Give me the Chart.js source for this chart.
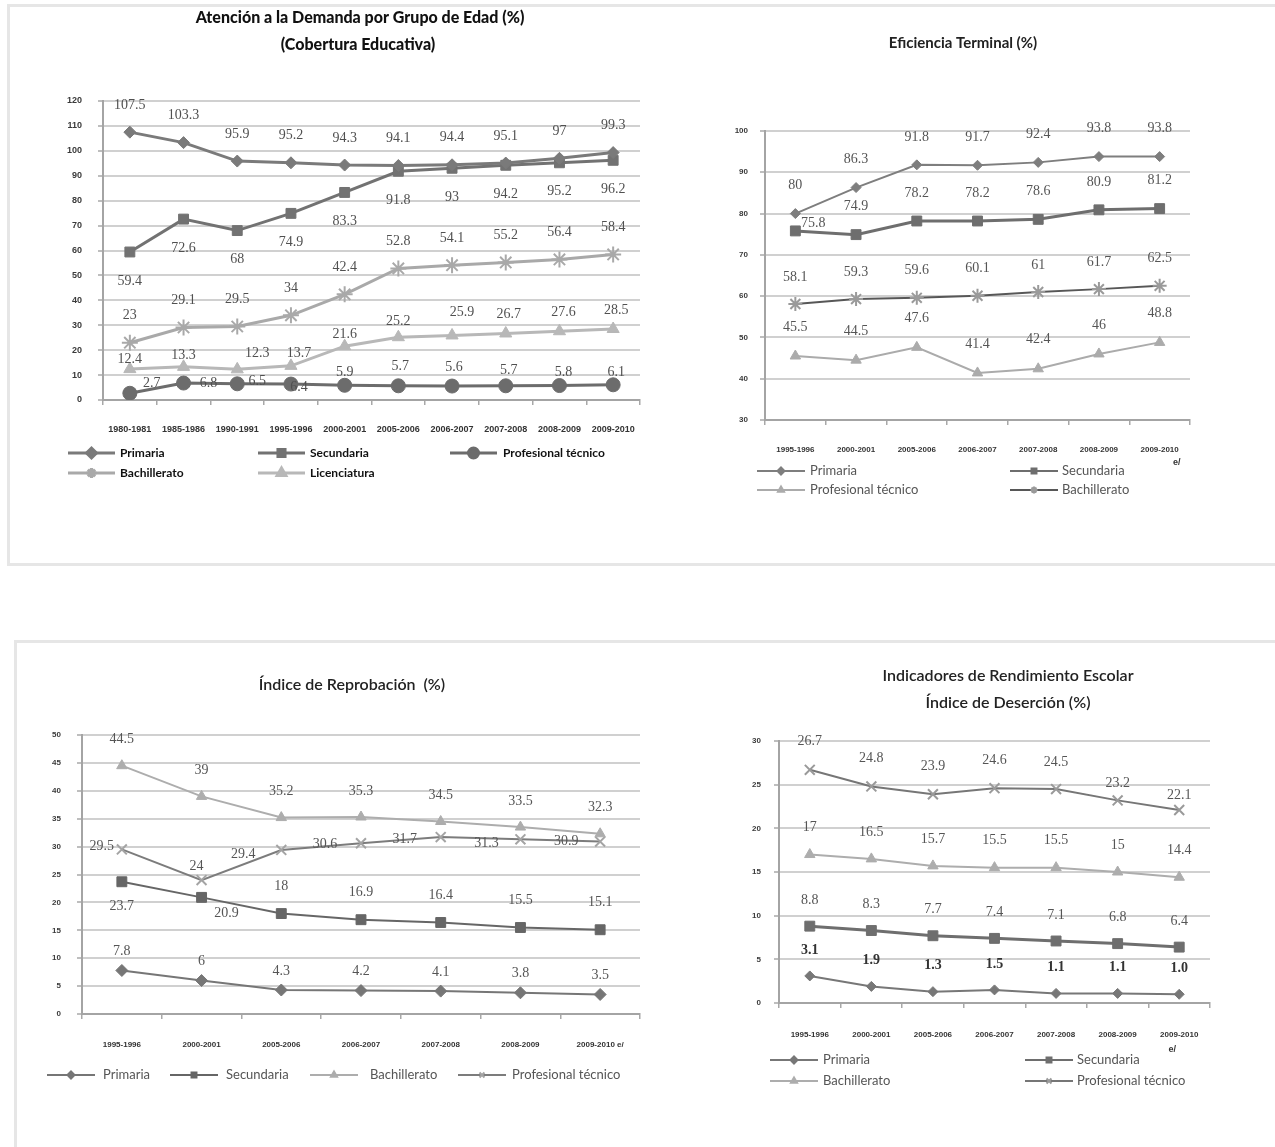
<!DOCTYPE html>
<html lang="es">
<head>
<meta charset="utf-8">
<title>Indicadores educativos</title>
<script src="https://cdn.jsdelivr.net/npm/chart.js@4.4.1/dist/chart.umd.min.js"></script>
<style>
  html, body { margin: 0; padding: 0; background: #fff; }
  body { position: relative; width: 1275px; height: 1147px; overflow: hidden; }
  .frame { position: absolute; border: 3px solid #e6e6e6; box-sizing: border-box; }
  .box { position: absolute; }
  canvas { display: block; }
</style>
</head>
<body>
<div class="frame" style="left:7px;top:4px;width:1300px;height:562px;"></div>
<div class="frame" style="left:14px;top:640px;width:1300px;height:540px;"></div>

<div class="box" style="left:50px;top:0px;"><canvas id="cobertura" width="610" height="500"></canvas></div>
<div class="box" style="left:720px;top:5px;"><canvas id="eficiencia" width="555" height="520"></canvas></div>
<div class="box" style="left:14px;top:640px;"><canvas id="reprobacion" width="650" height="470"></canvas></div>
<div class="box" style="left:740px;top:640px;"><canvas id="desercion" width="535" height="470"></canvas></div>

<script>
// ---- Atención a la demanda (cobertura) ----
const coberturaCiclos = ["1980-1981", "1985-1986", "1990-1991", "1995-1996", "2000-2001",
                         "2005-2006", "2006-2007", "2007-2008", "2008-2009", "2009-2010"];
const coberturaPrimaria      = [107.5, 103.3, 95.9, 95.2, 94.3, 94.1, 94.4, 95.1, 97, 99.3];
const coberturaSecundaria    = [59.4, 72.6, 68, 74.9, 83.3, 91.8, 93, 94.2, 95.2, 96.2];
const coberturaProfTecnico   = [2.7, 6.8, 6.5, 6.4, 5.9, 5.7, 5.6, 5.7, 5.8, 6.1];
const coberturaBachillerato  = [23, 29.1, 29.5, 34, 42.4, 52.8, 54.1, 55.2, 56.4, 58.4];
const coberturaLicenciatura  = [12.4, 13.3, 12.3, 13.7, 21.6, 25.2, 25.9, 26.7, 27.6, 28.5];
const coberturaEje = { min: 0, max: 120, paso: 10 };

// ---- Ciclos escolares de los indicadores de rendimiento ----
const ciclos = ["1995-1996", "2000-2001", "2005-2006", "2006-2007", "2007-2008", "2008-2009", "2009-2010 e/"];

// ---- Eficiencia terminal ----
const eficienciaPrimaria     = [80, 86.3, 91.8, 91.7, 92.4, 93.8, 93.8];
const eficienciaSecundaria   = [75.8, 74.9, 78.2, 78.2, 78.6, 80.9, 81.2];
const eficienciaProfTecnico  = [45.5, 44.5, 47.6, 41.4, 42.4, 46, 48.8];
const eficienciaBachillerato = [58.1, 59.3, 59.6, 60.1, 61, 61.7, 62.5];
const eficienciaEje = { min: 30, max: 100, paso: 10 };

// ---- Índice de reprobación ----
const reprobacionPrimaria     = [7.8, 6, 4.3, 4.2, 4.1, 3.8, 3.5];
const reprobacionSecundaria   = [23.7, 20.9, 18, 16.9, 16.4, 15.5, 15.1];
const reprobacionBachillerato = [44.5, 39, 35.2, 35.3, 34.5, 33.5, 32.3];
const reprobacionProfTecnico  = [29.5, 24, 29.4, 30.6, 31.7, 31.3, 30.9];
const reprobacionEje = { min: 0, max: 50, paso: 5 };

// ---- Índice de deserción ----
const desercionPrimaria     = [3.1, 1.9, 1.3, 1.5, 1.1, 1.1, 1.0];
const desercionSecundaria   = [8.8, 8.3, 7.7, 7.4, 7.1, 6.8, 6.4];
const desercionBachillerato = [17, 16.5, 15.7, 15.5, 15.5, 15, 14.4];
const desercionProfTecnico  = [26.7, 24.8, 23.9, 24.6, 24.5, 23.2, 22.1];
const desercionEje = { min: 0, max: 30, paso: 5 };

// Value labels next to each point; offsets come from dataset.valueLabel
const valueLabels = {
  id: 'valueLabels',
  afterDatasetsDraw(chart, args, opts) {
    const ctx = chart.ctx;
    chart.data.datasets.forEach((ds, i) => {
      const meta = chart.getDatasetMeta(i);
      const lb = ds.valueLabel || {};
      ctx.save();
      ctx.font = lb.font || opts.font;
      ctx.fillStyle = lb.color || opts.color;
      ctx.textAlign = 'center';
      ctx.textBaseline = 'middle';
      meta.data.forEach((pt, j) => {
        const dx = Array.isArray(lb.dx) ? lb.dx[j] : (lb.dx || 0);
        const dy = Array.isArray(lb.dy) ? lb.dy[j] : (lb.dy || 0);
        const v = ds.data[j];
        const txt = lb.decimals != null ? v.toFixed(lb.decimals) : String(v);
        ctx.fillText(txt, pt.x + dx, pt.y + dy);
      });
      ctx.restore();
    });
  }
};

// Titles, a grid-placed legend (line + marker + name) and the "e/" note per chart
const panelText = {
  id: 'panelText',
  afterDraw(chart, args, opts) {
    const ctx = chart.ctx;
    ctx.save();
    ctx.textAlign = 'center';
    ctx.textBaseline = 'middle';
    (opts.titles || []).forEach(t => {
      ctx.font = t.font;
      ctx.fillStyle = t.color || '#222';
      ctx.fillText(t.text, t.x, t.y);
    });
    // note placed under the last category label
    if (opts.note) {
      const xs = chart.scales.x;
      const last = xs.getPixelForValue(chart.data.labels.length - 1);
      ctx.font = opts.note.font;
      ctx.fillStyle = opts.note.color;
      ctx.fillText(opts.note.text, last + opts.note.dx, xs.bottom - xs.height + opts.note.dy);
    }
    const lg = opts.legend;
    if (lg) {
      chart.data.datasets.forEach((ds, i) => {
        const p = lg.items[i];
        if (!p) return;
        ctx.strokeStyle = ds.borderColor;
        ctx.lineWidth = lg.lineWidth || 2;
        ctx.beginPath();
        ctx.moveTo(p.lx, p.y);
        ctx.lineTo(p.lx + lg.lineLength, p.y);
        ctx.stroke();
        ctx.fillStyle = ds.pointBackgroundColor;
        ctx.strokeStyle = ds.pointBorderColor;
        Chart.helpers.drawPoint(ctx, {
          pointStyle: ds.pointStyle,
          radius: lg.markerRadius,
          rotation: 0,
          borderWidth: ds.pointBorderWidth
        }, p.lx + lg.lineLength / 2, p.y);
        ctx.font = lg.font;
        ctx.fillStyle = lg.color;
        ctx.textAlign = 'left';
        ctx.fillText(ds.label, p.tx, p.y);
      });
    }
    ctx.restore();
  }
};

function series(label, data, color, style, radius, width, valueLabel, markerColor) {
  const mc = markerColor || color;
  return {
    label, data,
    borderColor: color,
    backgroundColor: color,
    borderWidth: width,
    pointStyle: style,
    pointRadius: radius,
    pointHoverRadius: radius,
    pointBackgroundColor: mc,
    pointBorderColor: mc,
    pointBorderWidth: (style === 'star' || style === 'crossRot' || style === 'cross') ? 2 : 1,
    tension: 0,
    fill: false,
    valueLabel
  };
}

function valueAxis(range, font, width, gap) {
  return {
    type: 'linear',
    min: range.min, max: range.max,
    ticks: { stepSize: range.paso, font, color: '#3a3a3a', padding: gap },
    grid: { color: '#d0d0d0', lineWidth: 2, drawTicks: true, tickLength: 5, tickColor: '#a8a8a8', tickWidth: 1.5 },
    border: { color: '#a4a4a4', width: 2 },
    afterFit(s) { s.width = width; }
  };
}

// splitNote: the " e/" suffix of a label is drawn separately, on a line below it
function categoryAxis(font, gap, splitNote) {
  return {
    type: 'category',
    offset: true,
    ticks: {
      font, color: '#333', padding: gap, autoSkip: false, maxRotation: 0, minRotation: 0,
      callback(v) {
        const l = this.getLabelForValue(v);
        return splitNote ? l.split(' ')[0] : l;
      }
    },
    grid: { offset: true, drawOnChartArea: false, drawTicks: true, tickLength: 5, color: '#a8a8a8', lineWidth: 1.5 },
    border: { color: '#a4a4a4', width: 2 },
    afterFit(s) { s.height = 40; }
  };
}

function baseOptions(padding, scales, plugins) {
  return {
    responsive: false,
    animation: false,
    events: [],
    layout: { padding },
    scales,
    plugins: Object.assign({ legend: { display: false }, tooltip: { enabled: false }, title: { display: false } }, plugins)
  };
}

const serifLabel = '14px "Liberation Serif", serif';
const tickFont = { family: '"Liberation Sans", Arial, sans-serif', size: 8, weight: 'bold' };
const noteFont = 'bold 9px "Liberation Sans", Arial, sans-serif';

// ---------- Atención a la Demanda por Grupo de Edad ----------
new Chart(document.getElementById('cobertura'), {
  type: 'line',
  data: {
    labels: coberturaCiclos,
    datasets: [
      series('Primaria', coberturaPrimaria, '#7a7a7a', 'rectRot', 6, 3, { dy: -27 }),
      series('Secundaria', coberturaSecundaria, '#727272', 'rect', 7, 3, { dy: 29 }),
      series('Profesional técnico', coberturaProfTecnico, '#6c6c6c', 'circle', 7, 3,
             { dx: [22, 25, 20, 8, 0, 2, 2, 3, 4, 3], dy: [-10, 0, -2, 3, -13, -19, -19, -15, -13, -12] }),
      series('Bachillerato', coberturaBachillerato, '#a9a9a9', 'star', 8, 3, { dy: -27 }),
      series('Licenciatura', coberturaLicenciatura, '#b8b8b8', 'triangle', 7, 3,
             { dx: [0, 0, 20, 8, 0, 0, 10, 3, 4, 3], dy: [-10, -12, -16, -13, -12, -16, -23, -19, -19, -19] })
    ]
  },
  options: baseOptions(
    { left: 8, top: 101, right: 20, bottom: 60 },
    {
      x: categoryAxis({ family: '"Liberation Sans", Arial, sans-serif', size: 9, weight: 'bold' }, 19, false),
      y: valueAxis(coberturaEje, { family: '"Liberation Sans", Arial, sans-serif', size: 9, weight: 'bold' }, 45, 16)
    },
    {
      valueLabels: { font: serifLabel, color: '#505050' },
      panelText: {
        titles: [
          { text: 'Atención a la Demanda por Grupo de Edad (%)', x: 310, y: 18, font: '900 16px Lato, sans-serif', color: '#111' },
          { text: '(Cobertura Educativa)', x: 308, y: 45, font: '900 16px Lato, sans-serif', color: '#111' }
        ],
        legend: {
          font: 'bold 12px Lato, sans-serif', color: '#111', lineLength: 47, lineWidth: 3, markerRadius: 5,
          items: [
            { lx: 18, tx: 70, y: 453 }, { lx: 208, tx: 260, y: 453 }, { lx: 400, tx: 453, y: 453 },
            { lx: 18, tx: 70, y: 473 }, { lx: 208, tx: 260, y: 473 }
          ]
        }
      }
    }
  ),
  plugins: [valueLabels, panelText]
});

// ---------- Eficiencia Terminal ----------
new Chart(document.getElementById('eficiencia'), {
  type: 'line',
  data: {
    labels: ciclos,
    datasets: [
      series('Primaria', eficienciaPrimaria, '#7e7e7e', 'rectRot', 5, 2, { dy: -28 }),
      series('Secundaria', eficienciaSecundaria, '#6e6e6e', 'rect', 7, 3, { dx: [18, 0, 0, 0, 0, 0, 0], dy: [-8, -28, -28, -28, -28, -28, -28] }),
      series('Profesional técnico', eficienciaProfTecnico, '#ababab', 'triangle', 6, 2, { dy: -29 }),
      series('Bachillerato', eficienciaBachillerato, '#575757', 'star', 7, 2, { dy: -27 }, '#9a9a9a')
    ]
  },
  options: baseOptions(
    { left: 5, top: 126, right: 85, bottom: 65 },
    {
      x: categoryAxis(tickFont, 20, true),
      y: valueAxis(eficienciaEje, tickFont, 40, 12)
    },
    {
      valueLabels: { font: serifLabel, color: '#555' },
      panelText: {
        titles: [
          { text: 'Eficiencia Terminal (%)', x: 243, y: 38, font: 'bold 15px Lato, sans-serif', color: '#222' }
        ],
        note: { text: 'e/', font: noteFont, color: '#333', dx: 17, dy: 43 },
        legend: {
          font: '13px Lato, sans-serif', color: '#555', lineLength: 48, lineWidth: 2, markerRadius: 3.5,
          items: [
            { lx: 37, tx: 90, y: 466 }, { lx: 290, tx: 342, y: 466 },
            { lx: 37, tx: 90, y: 485 }, { lx: 290, tx: 342, y: 485 }
          ]
        }
      }
    }
  ),
  plugins: [valueLabels, panelText]
});

// ---------- Índice de Reprobación ----------
new Chart(document.getElementById('reprobacion'), {
  type: 'line',
  data: {
    labels: ciclos,
    datasets: [
      series('Primaria', reprobacionPrimaria, '#767676', 'rectRot', 6, 2, { dy: -19 }),
      series('Secundaria', reprobacionSecundaria, '#666666', 'rect', 7, 2, { dx: [0, 25, 0, 0, 0, 0, 0], dy: [25, 16, -27, -27, -27, -27, -27] }),
      series('Bachillerato', reprobacionBachillerato, '#adadad', 'triangle', 6, 2, { dy: -26 }),
      series('Profesional técnico', reprobacionProfTecnico, '#7c7c7c', 'crossRot', 7, 2,
             { dx: [-20, -5, -38, -36, -36, -34, -34], dy: [-3, -14, 4, 1, 2, 4, 0] }, '#a4a4a4')
    ]
  },
  options: baseOptions(
    { left: 28, top: 95, right: 24, bottom: 56 },
    {
      x: categoryAxis(tickFont, 21, false),
      y: valueAxis(reprobacionEje, tickFont, 40, 16)
    },
    {
      valueLabels: { font: serifLabel, color: '#555' },
      panelText: {
        titles: [
          { text: 'Índice de Reprobación  (%)', x: 338, y: 45, font: '600 16px Lato, sans-serif', color: '#222' }
        ],
        legend: {
          font: '13px Lato, sans-serif', color: '#555', lineLength: 48, lineWidth: 2, markerRadius: 3.5,
          items: [
            { lx: 33, tx: 89, y: 435 }, { lx: 156, tx: 212, y: 435 },
            { lx: 296, tx: 356, y: 435 }, { lx: 444, tx: 498, y: 435 }
          ]
        }
      }
    }
  ),
  plugins: [valueLabels, panelText]
});

// ---------- Índice de Deserción ----------
new Chart(document.getElementById('desercion'), {
  type: 'line',
  data: {
    labels: ciclos,
    datasets: [
      series('Primaria', desercionPrimaria, '#777777', 'rectRot', 5, 2, { dy: -26, decimals: 1, font: 'bold 14px "Liberation Serif", serif', color: '#333' }),
      series('Secundaria', desercionSecundaria, '#6e6e6e', 'rect', 7, 3, { dy: -26 }),
      series('Profesional técnico', desercionProfTecnico, '#767676', 'crossRot', 7, 2, { dy: [-28, -28, -28, -28, -27, -17, -15] }, '#9a9a9a'),
      series('Bachillerato', desercionBachillerato, '#adadad', 'triangle', 6, 2, { dy: -27 })
    ]
  },
  options: baseOptions(
    { left: 4, top: 101, right: 65, bottom: 67 },
    {
      x: categoryAxis(tickFont, 22, true),
      y: valueAxis(desercionEje, tickFont, 35, 13)
    },
    {
      valueLabels: { font: serifLabel, color: '#555' },
      panelText: {
        titles: [
          { text: 'Indicadores de Rendimiento Escolar', x: 268, y: 36, font: '600 16px Lato, sans-serif', color: '#222' },
          { text: 'Índice de Deserción (%)', x: 268, y: 63, font: '600 16px Lato, sans-serif', color: '#222' }
        ],
        note: { text: 'e/', font: noteFont, color: '#333', dx: -7, dy: 47 },
        legend: {
          font: '13px Lato, sans-serif', color: '#555', lineLength: 48, lineWidth: 2, markerRadius: 3.5,
          items: [
            { lx: 30, tx: 83, y: 420 }, { lx: 285, tx: 337, y: 420 },
            { lx: 285, tx: 337, y: 441 }, { lx: 30, tx: 83, y: 441 }
          ]
        }
      }
    }
  ),
  plugins: [valueLabels, panelText]
});
</script>
</body>
</html>
